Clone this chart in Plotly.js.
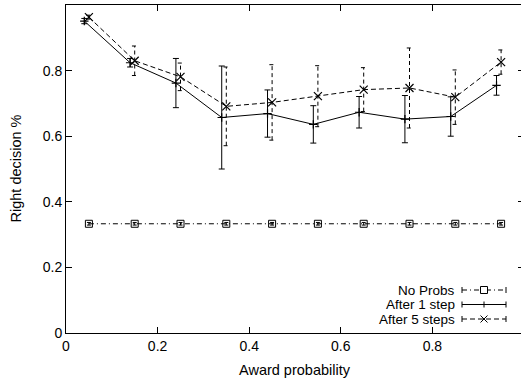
<!DOCTYPE html>
<html>
<head>
<meta charset="utf-8">
<script src="https://cdn.plot.ly/plotly-3.0.1.min.js"></script>
<style>
html,body{margin:0;padding:0;overflow:hidden;background:#fff;}
#chart{width:526px;height:383px;}
</style>
</head>
<body>
<div id="chart"></div>
<script>
// ---- data ----
var xTickVals = [0, 0.2, 0.4, 0.6, 0.8, 1];
var xTickText = ['0', '0.2', '0.4', '0.6', '0.8', '1'];
var yTickVals = [0, 0.2, 0.4, 0.6, 0.8, 1];
var yTickText = ['0', '0.2', '0.4', '0.6', '0.8', '1'];

var xTitle = 'Award probability';
var yTitle = 'Right decision %';
var seriesNames = ['No Probs', 'After 1 step', 'After 5 steps'];

var noX   = [0.05, 0.15, 0.25, 0.35, 0.45, 0.55, 0.65, 0.75, 0.85, 0.95];
var noY   = [0.333, 0.333, 0.333, 0.333, 0.333, 0.333, 0.333, 0.333, 0.333, 0.333];
var noErr = [0.004, 0.004, 0.004, 0.004, 0.004, 0.004, 0.004, 0.004, 0.004, 0.004];

var oneX   = [0.04, 0.14, 0.24, 0.34, 0.44, 0.54, 0.64, 0.74, 0.84, 0.94];
var oneY   = [0.951, 0.824, 0.762, 0.657, 0.669, 0.636, 0.673, 0.652, 0.660, 0.755];
var oneErr = [0.008, 0.013, 0.075, 0.157, 0.072, 0.057, 0.048, 0.072, 0.060, 0.030];

var fiveX   = [0.05, 0.15, 0.25, 0.35, 0.45, 0.55, 0.65, 0.75, 0.85, 0.95];
var fiveY   = [0.963, 0.830, 0.781, 0.691, 0.703, 0.722, 0.742, 0.747, 0.719, 0.826];
var fiveErr = [0.006, 0.045, 0.042, 0.120, 0.115, 0.093, 0.067, 0.122, 0.083, 0.037];

// ---- layout geometry ----
var W = 526, H = 383;
var M = {l: 66, r: 2, t: 5, b: 50};
var PW = W - M.l - M.r, PH = H - M.t - M.b;
function px2x(px) { return (px - M.l) / PW; }
function py2y(py) { return (H - M.b - py) / PH; }

var FONT = 'Liberation Sans, Arial, Helvetica, sans-serif';
var DASH5 = '5px,3px';
var DASHDOT = '5px,3px,1px,3px';

// dashed error bars for "After 5 steps" built from the data arrays
var capHalf = 0.006;
var ebX = [], ebY = [];
for (var i = 0; i < fiveX.length; i++) {
  var lo = fiveY[i] - fiveErr[i], hi = fiveY[i] + fiveErr[i];
  ebX.push(fiveX[i], fiveX[i], null);
  ebY.push(lo, hi, null);
  ebX.push(fiveX[i] - capHalf, fiveX[i] + capHalf, null);
  ebY.push(hi, hi, null);
  ebX.push(fiveX[i] - capHalf, fiveX[i] + capHalf, null);
  ebY.push(lo, lo, null);
}

var traces = [
  {
    x: noX, y: noY, name: seriesNames[0], type: 'scatter', mode: 'lines+markers',
    line: {color: '#000', width: 1, dash: DASHDOT},
    marker: {symbol: 'square-open', size: 7, color: '#000', line: {width: 1, color: '#000'}},
    error_y: {type: 'data', array: noErr, visible: true, color: '#000', thickness: 1, width: 2},
    showlegend: false, hoverinfo: 'skip'
  },
  {
    x: oneX, y: oneY, name: seriesNames[1], type: 'scatter', mode: 'lines+markers',
    line: {color: '#000', width: 1},
    marker: {symbol: 'cross-thin-open', size: 6, color: '#000', line: {width: 1.2, color: '#000'}},
    error_y: {type: 'data', array: oneErr, visible: true, color: '#000', thickness: 1, width: 3},
    showlegend: false, hoverinfo: 'skip'
  },
  {
    x: ebX, y: ebY, type: 'scatter', mode: 'lines',
    line: {color: '#000', width: 1, dash: '4px,3px'},
    showlegend: false, hoverinfo: 'skip'
  },
  {
    x: fiveX, y: fiveY, name: seriesNames[2], type: 'scatter', mode: 'lines+markers',
    line: {color: '#000', width: 1, dash: DASH5},
    marker: {symbol: 'x-thin-open', size: 8, color: '#000', line: {width: 1.2, color: '#000'}},
    showlegend: false, hoverinfo: 'skip'
  }
];

// ---- hand-made legend (text right-aligned, sample at right, like gnuplot) ----
var legRows = [290, 304.5, 319];
var textRight = 456, sx0 = 462, sx1 = 506, smid = 484;
var annotations = [], shapes = [];
var dashes = [DASHDOT, 'solid', DASH5];
for (var r = 0; r < 3; r++) {
  var yy = legRows[r];
  annotations.push({
    xref: 'paper', yref: 'paper', x: px2x(textRight), y: py2y(yy),
    xanchor: 'right', yanchor: 'middle', text: seriesNames[r], showarrow: false,
    borderpad: 0,
    font: {family: FONT, size: 13.5, color: '#000'}
  });
  shapes.push({type: 'line', xref: 'paper', yref: 'paper',
    x0: px2x(sx0), x1: px2x(sx1), y0: py2y(yy), y1: py2y(yy),
    line: {color: '#000', width: 1, dash: dashes[r]}});
  [sx0, sx1].forEach(function (ex) {
    shapes.push({type: 'line', xref: 'paper', yref: 'paper',
      x0: px2x(ex), x1: px2x(ex), y0: py2y(yy - 3), y1: py2y(yy + 3),
      line: {color: '#000', width: 1}});
  });
}
// legend markers
shapes.push({type: 'rect', xref: 'paper', yref: 'paper',
  x0: px2x(smid - 3.5), x1: px2x(smid + 3.5), y0: py2y(legRows[0] - 3.5), y1: py2y(legRows[0] + 3.5),
  fillcolor: '#fff', line: {color: '#000', width: 1}});
shapes.push({type: 'line', xref: 'paper', yref: 'paper',
  x0: px2x(smid), x1: px2x(smid), y0: py2y(legRows[1] - 3), y1: py2y(legRows[1] + 3),
  line: {color: '#000', width: 1}});
shapes.push({type: 'line', xref: 'paper', yref: 'paper',
  x0: px2x(smid - 3.5), x1: px2x(smid + 3.5), y0: py2y(legRows[2] - 3.5), y1: py2y(legRows[2] + 3.5),
  line: {color: '#000', width: 1}});
shapes.push({type: 'line', xref: 'paper', yref: 'paper',
  x0: px2x(smid - 3.5), x1: px2x(smid + 3.5), y0: py2y(legRows[2] + 3.5), y1: py2y(legRows[2] - 3.5),
  line: {color: '#000', width: 1}});

// axis titles placed as annotations for exact positioning
annotations.push({
  xref: 'paper', yref: 'paper', x: px2x(294.5), y: py2y(369.5),
  xanchor: 'center', yanchor: 'middle', text: xTitle, showarrow: false, borderpad: 0,
  font: {family: FONT, size: 14.5, color: '#000'}
});
annotations.push({
  xref: 'paper', yref: 'paper', x: px2x(15.5), y: py2y(169),
  xanchor: 'center', yanchor: 'middle', text: yTitle, showarrow: false, borderpad: 0,
  textangle: -90,
  font: {family: FONT, size: 14.5, color: '#000'}
});

var axisCommon = {
  showline: true, linecolor: '#000', linewidth: 1, mirror: 'ticks',
  ticks: 'inside', ticklen: 6, tickwidth: 1, tickcolor: '#000',
  showgrid: false, zeroline: false,
  tickfont: {family: FONT, size: 14, color: '#000'}
};

var layout = {
  width: W, height: H,
  margin: M,
  paper_bgcolor: '#fff', plot_bgcolor: '#fff',
  showlegend: false,
  font: {family: FONT, size: 14, color: '#000'},
  xaxis: Object.assign({}, axisCommon, {
    range: [0, 1], tickmode: 'array', tickvals: xTickVals, ticktext: xTickText
  }),
  yaxis: Object.assign({}, axisCommon, {
    range: [0, 1], tickmode: 'array', tickvals: yTickVals, ticktext: yTickText
  }),
  annotations: annotations,
  shapes: shapes
};

Plotly.newPlot('chart', traces, layout, {displayModeBar: false, staticPlot: true});
</script>
</body>
</html>
